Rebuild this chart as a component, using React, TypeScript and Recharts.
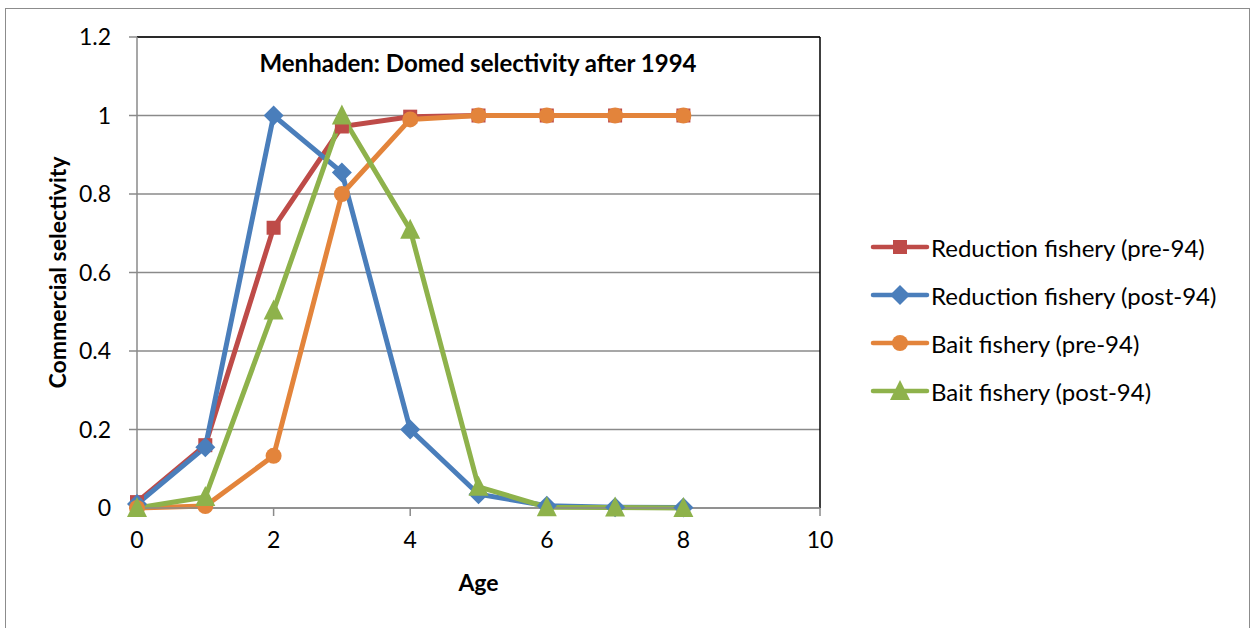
import { LineChart, Line, XAxis, YAxis, CartesianGrid, ReferenceLine } from "recharts";

// idades e seletividade por frota
const ages = [0, 1, 2, 3, 4, 5, 6, 7, 8];
const reductionPre = [0.015, 0.16, 0.714, 0.972, 0.997, 1, 1, 1, 1];
const reductionPost = [0.01, 0.155, 1, 0.855, 0.2, 0.035, 0.006, 0.002, 0.001];
const baitPre = [0, 0.005, 0.133, 0.8, 0.99, 1, 1, 1, 1];
const baitPost = [0, 0.028, 0.503, 1, 0.709, 0.054, 0.002, 0.001, 0];

const xTicks = [0, 2, 4, 6, 8, 10];
const yTicks = [0, 0.2, 0.4, 0.6, 0.8, 1, 1.2];

const seriesNames = [
  "Reduction fishery (pre-94)",
  "Reduction fishery (post-94)",
  "Bait fishery (pre-94)",
  "Bait fishery (post-94)",
];
const colors = ["#BE4B48", "#4A7EBB", "#E3843B", "#8EB24B"];
const shapes = ["square", "diamond", "circle", "triangle"];

const data = ages.map((age, i) => ({
  age,
  rPre: reductionPre[i],
  rPost: reductionPost[i],
  bPre: baitPre[i],
  bPost: baitPost[i],
}));

const FONT = "Lato, 'Open Sans', sans-serif";

function Marker({ cx, cy, shape, color }: { cx: number; cy: number; shape: string; color: string }) {
  if (cx == null || cy == null) return null;
  if (shape === "square") return <rect x={cx - 7} y={cy - 7} width={14} height={14} fill={color} />;
  if (shape === "diamond")
    return <polygon points={`${cx},${cy - 10} ${cx + 10},${cy} ${cx},${cy + 10} ${cx - 10},${cy}`} fill={color} />;
  if (shape === "circle") return <circle cx={cx} cy={cy} r={8} fill={color} />;
  return <polygon points={`${cx},${cy - 11} ${cx + 10},${cy + 9} ${cx - 10},${cy + 9}`} fill={color} />;
}

function makeDot(shape: string, color: string) {
  return (props: any) => <Marker key={props.index} cx={props.cx} cy={props.cy} shape={shape} color={color} />;
}

function LegendBox() {
  return (
    <div style={{ position: "absolute", left: 868, top: 223, fontFamily: FONT, fontSize: 24, color: "#000" }}>
      {seriesNames.map((name, i) => (
        <div key={name} style={{ display: "flex", alignItems: "center", height: 48 }}>
          <svg width={62} height={24}>
            <line x1={5} y1={12} x2={59} y2={12} stroke={colors[i]} strokeWidth={4.5} strokeLinecap="round" />
            <Marker cx={32} cy={12} shape={shapes[i]} color={colors[i]} />
          </svg>
          <span style={{ marginLeft: 1, whiteSpace: "nowrap" }}>{name}</span>
        </div>
      ))}
    </div>
  );
}

export default function App() {
  const keys = ["rPre", "rPost", "bPre", "bPost"];
  return (
    <div style={{ position: "absolute", left: 0, top: 0, width: 1254, height: 628, background: "#fff" }}>
      <div
        style={{
          position: "absolute",
          left: 5,
          top: 8,
          width: 1245,
          height: 630,
          border: "1.5px solid #8c8c8c",
          boxSizing: "border-box",
        }}
      />
      <LineChart
        width={1254}
        height={628}
        data={data}
        margin={{ top: 37, right: 434, bottom: 60, left: 0 }}
        style={{ position: "absolute", left: 0, top: 0, fontFamily: FONT }}
      >
        <CartesianGrid horizontal vertical={false} stroke="#8a8a8a" strokeWidth={1.5} />
        <ReferenceLine y={1.2} stroke="#000" strokeWidth={1.5} />
        <ReferenceLine x={10} stroke="#000" strokeWidth={1.5} />
        <XAxis
          dataKey="age"
          type="number"
          domain={[0, 10]}
          ticks={xTicks}
          height={60}
          stroke="#8a8a8a"
          strokeWidth={1.5}
          tickSize={8}
          tickMargin={16}
          tick={{ fill: "#000", fontSize: 23, fontFamily: FONT }}
          label={{ value: "Age", position: "insideBottom", offset: -23, fill: "#000", fontSize: 23, fontWeight: "bold", fontFamily: FONT }}
        />
        <YAxis
          type="number"
          domain={[0, 1.2]}
          ticks={yTicks}
          width={137}
          stroke="#8a8a8a"
          strokeWidth={1.5}
          tickSize={8}
          tickMargin={18}
          tick={{ fill: "#000", fontSize: 23, fontFamily: FONT }}
          label={{
            value: "Commercial selectivity",
            angle: -90,
            position: "insideLeft",
            offset: 58,
            style: { textAnchor: "middle" },
            fill: "#000",
            fontSize: 23,
            fontWeight: "bold",
            fontFamily: FONT,
          }}
        />
        {keys.map((k, i) => (
          <Line
            key={k}
            dataKey={k}
            name={seriesNames[i]}
            type="linear"
            stroke={colors[i]}
            strokeWidth={5}
            dot={makeDot(shapes[i], colors[i])}
            activeDot={false}
            isAnimationActive={false}
          />
        ))}
        <text x={478} y={66} textAnchor="middle" dominantBaseline="middle" fontSize={24} fontWeight="bold" fontFamily={FONT} fill="#000">
          Menhaden: Domed selectivity after 1994
        </text>
      </LineChart>
      <LegendBox />
    </div>
  );
}
